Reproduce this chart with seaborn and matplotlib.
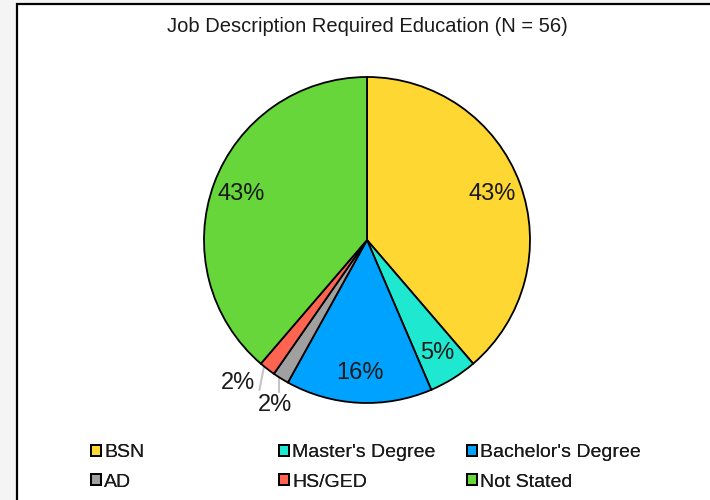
import numpy as np
import matplotlib.pyplot as plt
import seaborn as sns
from matplotlib.patches import Patch, Rectangle

# ---------------------------------------------------------------------------
# DATA  (counts of job descriptions, N = 56; categories can overlap)
# ---------------------------------------------------------------------------
N = 56
categories = ["BSN", "Master's Degree", "Bachelor's Degree", "AD", "HS/GED", "Not Stated"]
counts = [24, 3, 9, 1, 1, 24]
colors = ["#FFD733", "#1EE8CF", "#00A2FF", "#A0A0A0", "#FF6450", "#66D63A"]
title = "Job Description Required Education (N = 56)"

sns.set_theme(style="white")
plt.rcParams["font.family"] = ["Liberation Sans", "DejaVu Sans"]

fig = plt.figure(figsize=(7.1, 5.0), dpi=100)
fig.patch.set_facecolor("#f4f4f4")

# white chart area with black frame (cut off at right/bottom)
fig.add_artist(Rectangle((17 / 710, -0.05), 1.2, (500 - 4) / 500 + 0.05,
                         transform=fig.transFigure, facecolor="white",
                         edgecolor="black", linewidth=1.6, zorder=0))

fig.text(367 / 710, 1 - 27 / 500, title, ha="center", va="center",
         fontsize=14.5, color="#1a1a1a")

# pie axes: center (367, 240) px, radius ~163 px
half = 170
ax = fig.add_axes([(367 - half) / 710, (500 - 240 - half) / 500,
                   2 * half / 710, 2 * half / 500])
wedges, _ = ax.pie(counts, colors=colors, startangle=90, counterclock=False,
                   wedgeprops=dict(edgecolor="black", linewidth=1.3))
lim = half / 163
ax.set_xlim(-lim, lim)
ax.set_ylim(-lim, lim)
ax.set_aspect("equal")
ax.axis("off")

pcts = [f"{round(100 * c / N)}%" for c in counts]
for i, w in enumerate(wedges):
    ang = np.deg2rad((w.theta1 + w.theta2) / 2)
    x, y = np.cos(ang), np.sin(ang)
    if counts[i] > 2:
        ax.text(0.82 * x, 0.82 * y, pcts[i], ha="center", va="center",
                fontsize=17, color="#1a1a1a")

# small slices: labels outside with light grey leader lines
# AD
ax.plot([-0.54, -0.54], [-0.80, -0.935], color="#c4c4c4", lw=1.5, zorder=0.5)
ax.text(-0.565, -1.01, pcts[3], ha="center", va="center", fontsize=17, color="#1a1a1a")
# HS/GED
ax.plot([-0.625, -0.66], [-0.74, -0.92], color="#c4c4c4", lw=1.5, zorder=0.5)
ax.text(-0.79, -0.88, pcts[4], ha="center", va="center", fontsize=17, color="#1a1a1a")

# legend: three equal-width columns
col_x = [91 / 710, 279 / 710, 467 / 710]
for c in range(3):
    idx = [c, c + 3]
    handles = [Patch(facecolor=colors[i], edgecolor="black", linewidth=1.4) for i in idx]
    leg = fig.legend(handles, [categories[i] for i in idx], loc="upper left",
                     bbox_to_anchor=(col_x[c], 1 - 444 / 500), frameon=False,
                     fontsize=14, handlelength=0.5, handleheight=0.5,
                     handletextpad=0.18, labelspacing=0.66, borderpad=0,
                     borderaxespad=0, labelcolor="#1a1a1a")
    fig.add_artist(leg)

plt.savefig("out.png", dpi=100, facecolor=fig.get_facecolor())
